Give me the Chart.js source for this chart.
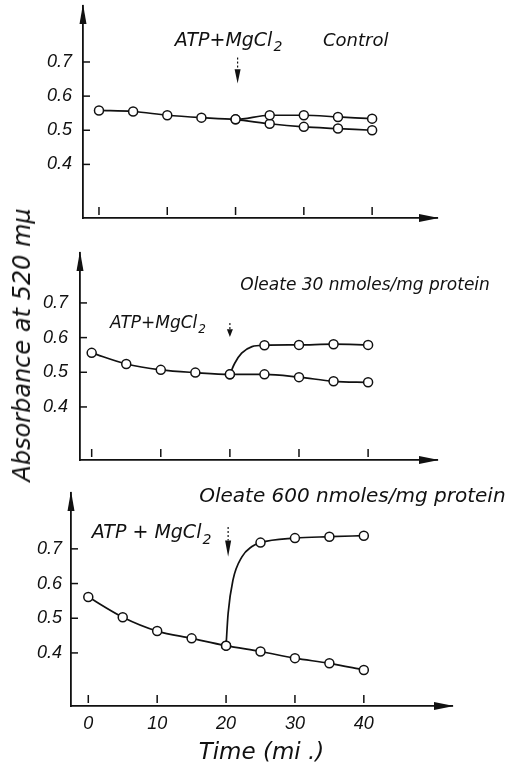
<!DOCTYPE html>
<html>
<head>
<meta charset="utf-8">
<script src="https://cdn.jsdelivr.net/npm/chart.js@4"></script>
<style>
  body { margin: 0; background: #fff; }
  .panel { position: absolute; left: 0; }
  #ytitle {
    position: absolute; left: 22px; top: 345px;
    transform: translate(-50%, -50%) rotate(-90deg);
    white-space: nowrap;
    font: italic 24px "DejaVu Sans", sans-serif; color: #111;
  }
</style>
</head>
<body>
<div class="panel" style="top:0px"><canvas id="c1" width="514" height="240"></canvas></div>
<div class="panel" style="top:240px"><canvas id="c2" width="514" height="240"></canvas></div>
<div class="panel" style="top:480px"><canvas id="c3" width="514" height="287"></canvas></div>
<div id="ytitle">Absorbance at 520 mμ</div>
<script>
// time in minutes
var times = [0, 5, 10, 15, 20, 25, 30, 35, 40];
var xTicks = [0, 10, 20, 30, 40];
var yTicks = [0.4, 0.5, 0.6, 0.7];

// control
var controlUpper = [0.558, 0.555, 0.544, 0.537, 0.532, 0.544, 0.544, 0.539, 0.534];
var controlLowerTimes = [20, 25, 30, 35, 40];
var controlLower = [0.532, 0.519, 0.510, 0.505, 0.500];

// oleate 30 nmoles/mg
var oleate30 = [0.556, 0.524, 0.507, 0.499, 0.494, 0.494, 0.486, 0.474, 0.471];
var oleate30AtpTimes = [20, 20.7, 21.7, 23.2, 25, 30, 35, 40];
var oleate30Atp = [0.494, 0.526, 0.555, 0.574, 0.578, 0.579, 0.581, 0.579];

// oleate 600 nmoles/mg
var oleate600 = [0.561, 0.503, 0.463, 0.442, 0.421, 0.404, 0.385, 0.370, 0.351];
var oleate600AtpTimes = [20, 20.3, 21, 22.3, 23.7, 25, 30, 35, 40];
var oleate600Atp = [0.421, 0.514, 0.610, 0.677, 0.706, 0.718, 0.731, 0.735, 0.738];

var INK = '#111';

function pts(xs, ys) {
  return xs.map(function (x, i) { return { x: x, y: ys[i] }; });
}

function series(data) {
  return {
    data: data,
    borderColor: INK,
    borderWidth: 1.7,
    backgroundColor: '#fff',
    pointBackgroundColor: '#fff',
    pointBorderColor: INK,
    pointBorderWidth: 1.5,
    pointRadius: function (c) { return c.raw && c.raw.x % 5 === 0 ? 4.5 : 0; },
    cubicInterpolationMode: 'monotone',
    fill: false
  };
}

// arrows on the axes, inward ticks and the notes
var decor = {
  id: 'decor',
  afterDraw: function (chart, args, opts) {
    var ctx = chart.ctx, a = chart.chartArea;
    var xs = chart.scales.x, ys = chart.scales.y;
    ctx.save();
    ctx.fillStyle = INK;
    ctx.strokeStyle = INK;
    // y arrow
    ctx.beginPath();
    ctx.moveTo(a.left, a.top - 2);
    ctx.lineTo(a.left - 3.5, a.top + 18);
    ctx.lineTo(a.left + 3.5, a.top + 18);
    ctx.closePath();
    ctx.fill();
    // x arrow
    ctx.beginPath();
    ctx.moveTo(a.right + 2, a.bottom);
    ctx.lineTo(a.right - 18, a.bottom - 4);
    ctx.lineTo(a.right - 18, a.bottom + 4);
    ctx.closePath();
    ctx.fill();
    // ticks
    ctx.lineWidth = 1.5;
    yTicks.forEach(function (v) {
      var py = ys.getPixelForValue(v);
      ctx.beginPath(); ctx.moveTo(a.left, py); ctx.lineTo(a.left + 7, py); ctx.stroke();
    });
    xTicks.forEach(function (v) {
      var px = xs.getPixelForValue(v);
      ctx.beginPath(); ctx.moveTo(px, a.bottom - 3); ctx.lineTo(px, a.bottom - 11); ctx.stroke();
    });
    // notes
    (opts.notes || []).forEach(function (n) {
      var px = xs.getPixelForValue(n.x), py = ys.getPixelForValue(n.y);
      ctx.font = 'italic ' + n.size + 'px "DejaVu Sans", sans-serif';
      ctx.textBaseline = 'alphabetic';
      ctx.textAlign = 'left';
      ctx.fillText(n.text, px, py);
      if (n.sub) {
        var w = ctx.measureText(n.text).width;
        ctx.font = 'italic ' + Math.round(n.size * 0.72) + 'px "DejaVu Sans", sans-serif';
        ctx.fillText(n.sub, px + w + 1, py + n.size * 0.3);
      }
    });
    // addition arrows
    (opts.arrows || []).forEach(function (r) {
      var px = xs.getPixelForValue(r.x);
      var p1 = ys.getPixelForValue(r.y1), p2 = ys.getPixelForValue(r.y2);
      var len = p2 - p1;
      ctx.lineWidth = 1.2;
      ctx.setLineDash([2, 2]);
      ctx.beginPath(); ctx.moveTo(px, p1); ctx.lineTo(px, p1 + len * 0.45); ctx.stroke();
      ctx.setLineDash([]);
      ctx.beginPath();
      ctx.moveTo(px - 3, p1 + len * 0.45);
      ctx.lineTo(px + 3, p1 + len * 0.45);
      ctx.lineTo(px, p2);
      ctx.closePath();
      ctx.fill();
    });
    ctx.restore();
  }
};

function makeChart(id, p) {
  var H = document.getElementById(id).height;
  return new Chart(document.getElementById(id), {
    type: 'line',
    data: { datasets: p.datasets },
    plugins: [decor],
    options: {
      responsive: false,
      animation: false,
      layout: { padding: { top: p.top, right: 514 - p.right, left: 0, bottom: 0 } },
      plugins: {
        legend: { display: false },
        tooltip: { enabled: false },
        decor: { notes: p.notes, arrows: p.arrows }
      },
      scales: {
        x: {
          type: 'linear',
          min: p.xmin, max: p.xmax,
          grid: { display: false, drawTicks: false },
          border: { display: true, color: INK, width: 1.8 },
          afterBuildTicks: function (s) { s.ticks = xTicks.map(function (v) { return { value: v }; }); },
          afterFit: function (s) { s.height = H - p.bottom; s.paddingLeft = 0; s.paddingRight = 0; },
          ticks: {
            display: !!p.xLabels,
            padding: 7,
            color: INK,
            font: { family: '"Liberation Sans", sans-serif', size: 18, style: 'italic' }
          },
          title: {
            display: !!p.xLabels,
            text: 'Time (mi .)',
            color: INK,
            padding: { top: 2, bottom: 0 },
            font: { family: '"DejaVu Sans", sans-serif', size: 23, style: 'italic', weight: 'normal' }
          }
        },
        y: {
          min: p.ymin, max: p.ymax,
          grid: { display: false, drawTicks: false },
          border: { display: true, color: INK, width: 1.8 },
          afterBuildTicks: function (s) { s.ticks = yTicks.map(function (v) { return { value: v }; }); },
          afterFit: function (s) { s.width = p.left; s.paddingTop = 0; s.paddingBottom = 0; },
          ticks: {
            padding: p.labelPad,
            color: INK,
            font: { family: '"Liberation Sans", sans-serif', size: 18, style: 'italic' },
            callback: function (v) { return v.toFixed(1); }
          }
        }
      }
    }
  });
}

makeChart('c1', {
  left: 83, right: 437, top: 5, bottom: 218,
  xmin: -2.34, xmax: 49.5, ymin: 0.243, ymax: 0.864, labelPad: 11,
  datasets: [series(pts(times, controlUpper)), series(pts(controlLowerTimes, controlLower))],
  notes: [
    { x: 11.1, y: 0.748, text: 'ATP+MgCl', sub: '2', size: 19 },
    { x: 32.8, y: 0.748, text: 'Control', size: 18 }
  ],
  arrows: [{ x: 20.3, y1: 0.713, y2: 0.637 }]
});

makeChart('c2', {
  left: 80, right: 437, top: 13, bottom: 220,
  xmin: -1.69, xmax: 49.97, ymin: 0.247, ymax: 0.844, labelPad: 12,
  datasets: [series(pts(times, oleate30)), series(pts(oleate30AtpTimes, oleate30Atp))],
  notes: [
    { x: 21.5, y: 0.737, text: 'Oleate 30 nmoles/mg protein', size: 17 },
    { x: 2.65, y: 0.628, text: 'ATP+MgCl', sub: '2', size: 17 }
  ],
  arrows: [{ x: 20.0, y1: 0.642, y2: 0.602 }]
});

makeChart('c3', {
  left: 71, right: 452, top: 13, bottom: 226,
  xmin: -2.51, xmax: 52.8, ymin: 0.247, ymax: 0.861, labelPad: 9, xLabels: true,
  datasets: [series(pts(times, oleate600)), series(pts(oleate600AtpTimes, oleate600Atp))],
  notes: [
    { x: 16.1, y: 0.836, text: 'Oleate 600 nmoles/mg protein', size: 20 },
    { x: 0.5, y: 0.731, text: 'ATP + MgCl', sub: '2', size: 19 }
  ],
  arrows: [{ x: 20.3, y1: 0.763, y2: 0.677 }]
});
</script>
</body>
</html>
